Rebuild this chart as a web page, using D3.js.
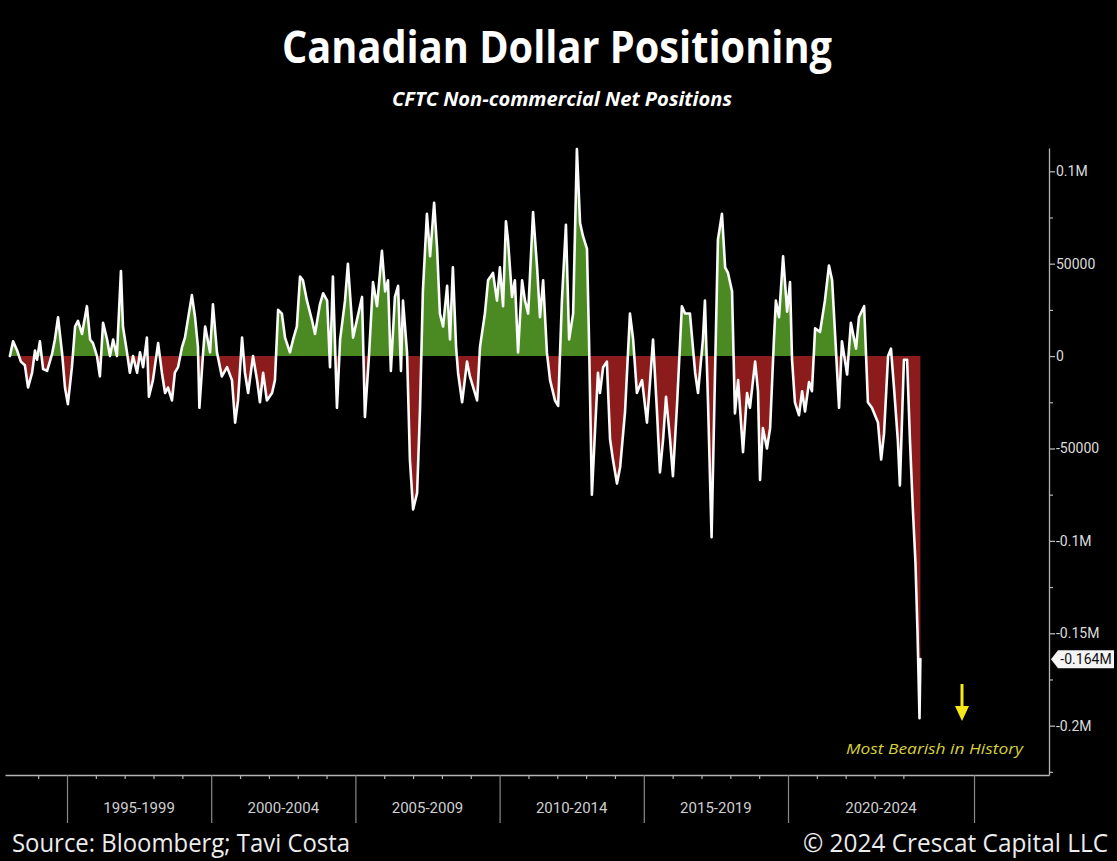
<!DOCTYPE html>
<html>
<head>
<meta charset="utf-8">
<script src="https://cdn.jsdelivr.net/npm/d3@7"></script>
<style>
  html, body { margin: 0; padding: 0; background: #000; }
  svg { display: block; }
</style>
</head>
<body>
<svg id="chart" width="1117" height="861"></svg>
<script>
// Report dates as decimal years
const years = [
  1993.02, 1993.13, 1993.27, 1993.40, 1993.54, 1993.65, 1993.79, 1993.89, 1993.96, 1994.06,
  1994.17, 1994.31, 1994.48, 1994.58, 1994.69, 1994.83, 1994.93, 1995.03, 1995.17, 1995.28,
  1995.38, 1995.52, 1995.69, 1995.80, 1995.90, 1996.04, 1996.14, 1996.25, 1996.39, 1996.49,
  1996.60, 1996.73, 1996.87, 1996.94, 1997.08, 1997.18, 1997.29, 1997.43, 1997.53, 1997.64,
  1997.77, 1997.84, 1997.98, 1998.16, 1998.29, 1998.40, 1998.50, 1998.64, 1998.74, 1998.85,
  1998.99, 1999.09, 1999.33, 1999.44, 1999.54, 1999.59, 1999.72, 1999.79, 1999.96, 2000.06,
  2000.20, 2000.37, 2000.55, 2000.72, 2000.83, 2000.93, 2001.07, 2001.17, 2001.28, 2001.45,
  2001.59, 2001.69, 2001.80, 2001.93, 2002.11, 2002.21, 2002.32, 2002.45, 2002.56, 2002.73,
  2002.84, 2002.97, 2003.08, 2003.18, 2003.32, 2003.50, 2003.60, 2003.77, 2003.88, 2004.02,
  2004.12, 2004.22, 2004.36, 2004.47, 2004.64, 2004.74, 2004.92, 2005.06, 2005.23, 2005.33,
  2005.47, 2005.61, 2005.75, 2005.92, 2006.03, 2006.13, 2006.23, 2006.37, 2006.48, 2006.58,
  2006.65, 2006.79, 2006.89, 2007.00, 2007.14, 2007.24, 2007.34, 2007.48, 2007.59, 2007.73,
  2007.83, 2007.93, 2008.04, 2008.18, 2008.28, 2008.38, 2008.49, 2008.56, 2008.70, 2008.87,
  2008.97, 2009.22, 2009.32, 2009.49, 2009.60, 2009.77, 2009.91, 2010.01, 2010.12, 2010.22,
  2010.29, 2010.43, 2010.53, 2010.64, 2010.78, 2010.88, 2010.99, 2011.16, 2011.30, 2011.40,
  2011.51, 2011.64, 2011.75, 2011.92, 2012.03, 2012.16, 2012.30, 2012.41, 2012.55, 2012.68,
  2012.79, 2012.89, 2013.03, 2013.10, 2013.20, 2013.31, 2013.41, 2013.48, 2013.59, 2013.72,
  2013.83, 2013.93, 2014.07, 2014.18, 2014.35, 2014.52, 2014.63, 2014.76, 2014.94, 2015.11,
  2015.22, 2015.32, 2015.46, 2015.56, 2015.67, 2015.77, 2015.91, 2016.01, 2016.15, 2016.32,
  2016.43, 2016.60, 2016.78, 2016.88, 2017.05, 2017.12, 2017.23, 2017.35, 2017.47, 2017.57,
  2017.71, 2017.82, 2017.92, 2018.06, 2018.16, 2018.27, 2018.44, 2018.58, 2018.68, 2018.86,
  2018.96, 2019.03, 2019.13, 2019.27, 2019.38, 2019.51, 2019.58, 2019.69, 2019.83, 2019.97,
  2020.07, 2020.14, 2020.24, 2020.38, 2020.49, 2020.59, 2020.73, 2020.83, 2020.94, 2021.11,
  2021.28, 2021.42, 2021.53, 2021.66, 2021.77, 2021.87, 2022.05, 2022.18, 2022.36, 2022.46,
  2022.64, 2022.77, 2022.91, 2023.12, 2023.23, 2023.33, 2023.47, 2023.57, 2023.68, 2023.81,
  2023.88, 2024.02, 2024.13, 2024.23, 2024.33, 2024.42, 2024.49, 2024.56, 2024.59
];

// CFTC non-commercial net positions, thousands of contracts
const netPositions = [
  0, 8, 3, -3, -5, -17, -9, 3, -2, 8,
  -7, -8, 1, 9, 21, 1.5, -17, -26, -6, 16,
  19, 12, 27, 9, 7, 0, -11, 18, 9, 0,
  9, 0, 46, 16, 2, -9, 0, -9, 2, -6,
  10, -22, -13, 7, -9, -20, -17, -24, -9, -6,
  5, 10, 33, 21, 5, -28, 2, 16, 2, 28,
  2, -11, -6, -13, -36, -24, 10, -9, -20, 0,
  -13, -25, -9, -24, -20, -13, 25, 23, 10, 2,
  9, 16, 43, 41, 30, 19, 12, 28, 34, 30,
  -6, 43, -28, 9, 30, 50, 10, 20, 32, -33,
  0, 40, 27, 57, 35, 41, -8, 32, 38, -8,
  30, 2, -56, -83, -74, -29, 35, 77, 54, 83,
  59, 23, 16, 38, 9, 48, 5, -9, -25, -3,
  -11, -24, 5, 23, 41, 45, 30, 48, 27, 73,
  63, 32, 41, 2, 41, 30, 23, 78, 48, 21,
  41, 2, -13, -24, -27, 30, 71, 9, 23, 112,
  72, 65, 58, 9, -75, -40, -9, -20, -6, -3,
  -45, -56, -69, -60, -30, 23, 9, -20, -13, -36,
  -13, 9, -31, -63, -45, -22, -45, -65, -27, 27,
  23, 23, -9, -20, 9, 30, -27, -98, -9, 63,
  77, 48, 45, 35, -31, -13, -52, -20, -28, -3,
  -19, -67, -39, -50, -39, 8, 30, 21, 54, 24,
  40, -2, -25, -32, -19, -30, -14, -19, 15, 13,
  30, 49, 41, 4, -28, 8, -10, 18, 4, 21,
  27, -25, -28, -36, -56, -42, 0, 4, -18, -46,
  -70, -2, -2, -46, -83, -112, -149, -196, -164
];

// Right-hand value axis (thousands of contracts)
const yTickValues = [100, 50, 0, -50, -100, -150, -200];
const yTickLabels = ["0.1M", "50000", "0", "-50000", "-0.1M", "-0.15M", "-0.2M"];
const yMinorTicks = [75, 25, -25, -75, -125, -175, -225];

// Time axis: period boundaries, period labels and yearly minor ticks
const periodBreaks = [1995, 2000, 2005, 2010, 2015, 2020, 2026.45];
const periodLabels = ["1995-1999", "2000-2004", "2005-2009", "2010-2014", "2015-2019", "2020-2024"];
const yearTicks = [1994, 1996, 1997, 1998, 1999, 2001, 2002, 2003, 2004, 2006, 2007, 2008, 2009,
  2011, 2012, 2013, 2014, 2016, 2017, 2018, 2019, 2021, 2022, 2023, 2024];

const data = years.map((t, i) => ({ t, v: netPositions[i] }));

const svg = d3.select("#chart");
const W = 1117, H = 861;
const plot = { left: 5, right: 1049, top: 148, bottom: 775 };

svg.append("rect").attr("width", W).attr("height", H).attr("fill", "#000");

const x = d3.scaleLinear().domain([1992.85, 2029.05]).range([plot.left, plot.right]);
const y = d3.scaleLinear().domain([-226.7, 112.6]).range([plot.bottom, plot.top]);

// Clip regions above and below zero for the two fill colours
const defs = svg.append("defs");
defs.append("clipPath").attr("id", "aboveZero")
  .append("rect").attr("x", plot.left).attr("y", plot.top - 10)
  .attr("width", plot.right - plot.left).attr("height", y(0) - plot.top + 10);
defs.append("clipPath").attr("id", "belowZero")
  .append("rect").attr("x", plot.left).attr("y", y(0))
  .attr("width", plot.right - plot.left).attr("height", plot.bottom - y(0));

const area = d3.area()
  .x(d => x(d.t))
  .y0(y(0))
  .y1(d => y(d.v));

svg.append("path").datum(data)
  .attr("d", area).attr("fill", "#4b8a22")
  .attr("clip-path", "url(#aboveZero)");
svg.append("path").datum(data)
  .attr("d", area).attr("fill", "#8c1b1b")
  .attr("clip-path", "url(#belowZero)");

const line = d3.line().x(d => x(d.t)).y(d => y(d.v));
svg.append("path").datum(data)
  .attr("d", line)
  .attr("fill", "none")
  .attr("stroke", "#fbfbfb")
  .attr("stroke-width", 2.6)
  .attr("stroke-linejoin", "round")
  .attr("stroke-linecap", "round");

// Value axis on the right
const axisColor = "#b4b4b4";
const labelColor = "#dcdcdc";

const yAxis = svg.append("g")
  .attr("transform", `translate(${plot.right},0)`)
  .call(d3.axisRight(y).tickValues(yTickValues)
    .tickFormat((d, i) => yTickLabels[i]).tickSize(6).tickSizeOuter(0).tickPadding(1));
yAxis.select(".domain").attr("stroke", axisColor).attr("stroke-width", 1.3);
yAxis.selectAll(".tick line").attr("stroke", axisColor).attr("stroke-width", 1.3);
yAxis.selectAll(".tick text")
  .attr("fill", labelColor)
  .style("font-family", "Roboto, 'Liberation Sans', sans-serif")
  .style("font-size", "14px");

const yMinor = svg.append("g")
  .attr("transform", `translate(${plot.right},0)`)
  .call(d3.axisRight(y).tickValues(yMinorTicks).tickFormat("").tickSize(4).tickSizeOuter(0));
yMinor.select(".domain").remove();
yMinor.selectAll(".tick line").attr("stroke", axisColor).attr("stroke-width", 1.2);

// Time axis along the bottom
const xMinor = svg.append("g")
  .attr("transform", `translate(0,${plot.bottom})`)
  .call(d3.axisBottom(x).tickValues(yearTicks).tickFormat("").tickSize(4).tickSizeOuter(0));
xMinor.select(".domain").attr("stroke", axisColor).attr("stroke-width", 1.3);
xMinor.selectAll(".tick line").attr("stroke", axisColor).attr("stroke-width", 1.2);

const xMajor = svg.append("g")
  .attr("transform", `translate(0,${plot.bottom})`)
  .call(d3.axisBottom(x).tickValues(periodBreaks).tickFormat("").tickSize(48).tickSizeOuter(0));
xMajor.select(".domain").remove();
xMajor.selectAll(".tick line").attr("stroke", "#8a8a8a").attr("stroke-width", 1.2);

svg.append("g").selectAll("text")
  .data(periodLabels)
  .join("text")
  .attr("x", (d, i) => (x(periodBreaks[i]) + x(periodBreaks[i + 1])) / 2)
  .attr("y", 813)
  .attr("text-anchor", "middle")
  .attr("fill", "#cfcfcf")
  .style("font-family", "Roboto, 'Liberation Sans', sans-serif")
  .style("font-size", "15px")
  .text(d => d);

// Latest value callout on the value axis
const last = data[data.length - 1];
const ly = y(last.v);
svg.append("path")
  .attr("d", `M${plot.right + 2},${ly} L${plot.right + 9},${ly - 9} L${plot.right + 65},${ly - 9} L${plot.right + 65},${ly + 9} L${plot.right + 9},${ly + 9} Z`)
  .attr("fill", "#f4f4f4");
svg.append("text")
  .attr("x", plot.right + 37)
  .attr("y", ly + 5)
  .attr("text-anchor", "middle")
  .attr("fill", "#111")
  .style("font-family", "Roboto, 'Liberation Sans', sans-serif")
  .style("font-size", "14px")
  .text(`${(last.v / 1000).toFixed(3)}M`);

// Record-low annotation
svg.append("path")
  .attr("d", "M960.5,684 L963.5,684 L963.5,706 L969,706 L962,721 L955,706 L960.5,706 Z")
  .attr("fill", "#f7e81a");
svg.append("text")
  .attr("x", 934.5)
  .attr("y", 754)
  .attr("text-anchor", "middle")
  .attr("fill", "#d8d03a")
  .attr("textLength", 177)
  .attr("lengthAdjust", "spacingAndGlyphs")
  .style("font-family", "'Open Sans', 'Noto Sans', sans-serif")
  .style("font-style", "italic")
  .style("font-size", "15px")
  .text("Most Bearish in History");

// Titles
svg.append("text")
  .attr("x", 557).attr("y", 63)
  .attr("text-anchor", "middle")
  .attr("fill", "#ffffff")
  .attr("textLength", 550)
  .attr("lengthAdjust", "spacingAndGlyphs")
  .style("font-family", "'Open Sans', 'Noto Sans', sans-serif")
  .style("font-weight", "700")
  .style("font-size", "45px")
  .text("Canadian Dollar Positioning");

svg.append("text")
  .attr("x", 562).attr("y", 106)
  .attr("text-anchor", "middle")
  .attr("fill", "#ffffff")
  .attr("textLength", 340)
  .attr("lengthAdjust", "spacingAndGlyphs")
  .style("font-family", "'Open Sans', 'Noto Sans', sans-serif")
  .style("font-weight", "700")
  .style("font-style", "italic")
  .style("font-size", "20px")
  .text("CFTC Non-commercial Net Positions");

// Footer
svg.append("text")
  .attr("x", 12).attr("y", 852)
  .attr("fill", "#ececec")
  .attr("textLength", 338)
  .attr("lengthAdjust", "spacingAndGlyphs")
  .style("font-family", "'Open Sans', 'Noto Sans', sans-serif")
  .style("font-size", "25px")
  .text("Source: Bloomberg; Tavi Costa");

svg.append("text")
  .attr("x", 1108).attr("y", 852)
  .attr("text-anchor", "end")
  .attr("fill", "#ececec")
  .attr("textLength", 305)
  .attr("lengthAdjust", "spacingAndGlyphs")
  .style("font-family", "'Open Sans', 'Noto Sans', sans-serif")
  .style("font-size", "25px")
  .text("© 2024 Crescat Capital LLC");
</script>
</body>
</html>
